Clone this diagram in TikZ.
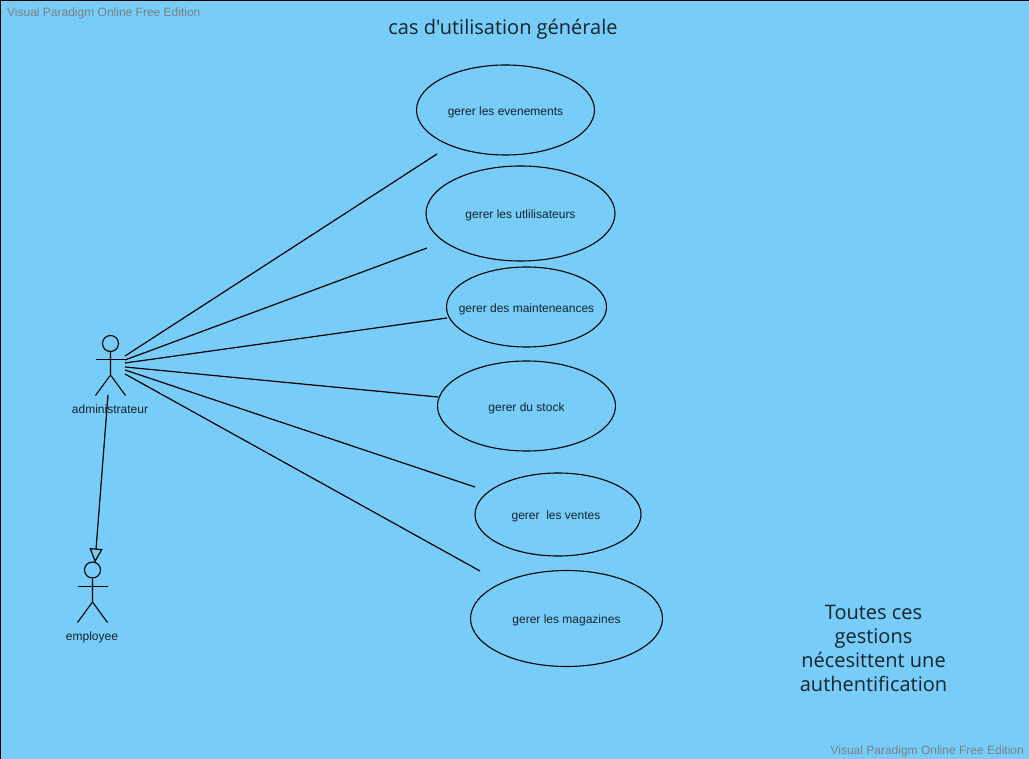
\documentclass[tikz,border=0pt]{standalone}
\usepackage{fontspec}
\setmainfont{Liberation Sans}
\newfontfamily\notefont{Open Sans}
\usetikzlibrary{shapes.geometric}
\usetikzlibrary{arrows.meta}
\definecolor{skyback}{HTML}{77CDF7}
\definecolor{marktext}{HTML}{7A7F85}
\definecolor{darktext}{HTML}{14232E}
\newcommand{\caselabel}[1]{\makebox[0pt]{\raisebox{-5.25pt}[0pt][0pt]{#1}}}
\tikzset{
    usecase/.style={draw, ellipse, inner sep=0pt, line width=1.1pt, text=darktext, font=\fontsize{12}{14}\selectfont},
    actorhead/.style={draw, circle, inner sep=0pt, minimum size=16pt, line width=1.1pt},
    actorline/.style={line width=1.1pt},
    actorname/.style={text=darktext, inner sep=0pt, font=\fontsize{12}{14}\selectfont},
    assoc/.style={line width=1.2pt},
    watermark/.style={text=marktext, inner sep=0pt, font=\fontsize{12}{14}\selectfont},
    note/.style={text=darktext, inner sep=0pt, align=center, font=\notefont\fontsize{20}{24}\selectfont}
}
\begin{document}
\begin{tikzpicture}[x=1pt, y=-1pt]
    \useasboundingbox (0,0) rectangle (1029,759);
    \fill [skyback] (0,0) rectangle (1029,759);
    \draw [line width=1pt] (0.5,759) -- (0.5,0.5) -- (1029,0.5);

    \node [watermark, anchor=west] (markleft) at (7,13) {Visual Paradigm Online Free Edition};
    \node [watermark, anchor=east] (markright) at (1024,751) {Visual Paradigm Online Free Edition};
    \node [note] (title) at (503,29.5) {cas d'utilisation générale};
    \node [note] (authnote) at (873.5,648) {Toutes ces\\gestions\\nécesittent une\\authentification};

    % use cases
    \node [usecase, minimum width=178pt, minimum height=90pt] (evenements) at (505.5,110) {\caselabel{gerer les evenements}};
    \node [usecase, minimum width=189pt, minimum height=95pt] (utilisateurs) at (520.5,213.5) {\caselabel{gerer les utlilisateurs}};
    \node [usecase, minimum width=160pt, minimum height=80pt] (maintenances) at (526.5,307) {\caselabel{gerer des mainteneances}};
    \node [usecase, minimum width=178pt, minimum height=90pt] (stock) at (526.5,406) {\caselabel{gerer du stock}};
    \node [usecase, minimum width=166pt, minimum height=83pt] (ventes) at (558,514.5) {\caselabel{gerer\ \ les ventes\hspace*{4pt}}};
    \node [usecase, minimum width=192pt, minimum height=96pt] (magazines) at (566.5,618.5) {\caselabel{gerer les magazines}};

    % actors
    \node [actorhead] (adminhead) at (110.5,343.5) {};
    \node [actorname] (admin) at (110,409) {administrateur};
    \draw [actorline] (adminhead.south) -- (110.5,375) -- (95.5,395.5);
    \draw [actorline] (110.5,375) -- (125.5,395.5);
    \draw [actorline] (95.5,359.5) -- (125.5,359.5);

    \node [actorhead] (employeehead) at (92.5,570) {};
    \node [actorname] (employee) at (92,637) {employee};
    \draw [actorline] (employeehead.south) -- (92.5,602) -- (77.5,622.5);
    \draw [actorline] (92.5,602) -- (107.5,622.5);
    \draw [actorline] (77.5,586.5) -- (107.5,586.5);

    % associations
    \coordinate (admineast) at (125,365);
    \draw [assoc] ([yshift=9pt]admineast) -- (437,154);
    \draw [assoc] ([yshift=5pt]admineast) -- (427,248);
    \draw [assoc] ([yshift=2pt]admineast) -- (447,318);
    \draw [assoc] ([yshift=-2pt]admineast) -- (438,397);
    \draw [assoc] ([yshift=-5pt]admineast) -- (475,487);
    \draw [assoc] ([yshift=-9pt]admineast) -- (480,571);

    % generalisation
    \coordinate (adminfoot) at (108,395);
    \coordinate (employeetop) at (95,562.5);
    \draw [assoc, -{Triangle[open, length=14pt, width=13pt]}] (adminfoot) -- (employeetop);
\end{tikzpicture}
\end{document}
